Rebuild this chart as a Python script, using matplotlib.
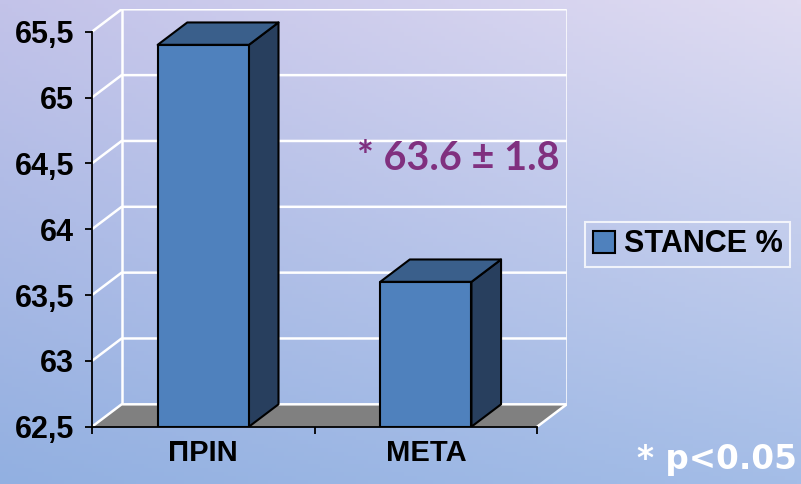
import numpy as np
import matplotlib
matplotlib.use("Agg")
import matplotlib.pyplot as plt
from matplotlib.patches import Polygon
from matplotlib.colors import to_rgb

# data
categories = ['ΠΡΙΝ', 'ΜΕΤΑ']
values = [65.4, 63.6]
series_name = 'STANCE %'
y_ticks = [62.5, 63.0, 63.5, 64.0, 64.5, 65.0, 65.5]
y_tick_labels = ['62,5', '63', '63,5', '64', '64,5', '65', '65,5']
note_text = '* 63.6 \u00b1 1.8'
p_text = '* p<0.05'

Y_MIN, Y_MAX = 62.5, 65.5
DX, DY = 0.133, 0.170   # 3d depth offset in data units
BAR_W = 0.41

FRONT = '#4f81bd'
TOP = '#3a5f8b'
SIDE = '#283f5e'

plt.rcParams['font.family'] = ['Liberation Sans', 'DejaVu Sans']

fig = plt.figure(figsize=(8.01, 4.84), dpi=100)

# gradient background
bg = fig.add_axes([0, 0, 1, 1], zorder=-10)
tl, tr = np.array(to_rgb('#c3c3e9')), np.array(to_rgb('#e0dcf2'))
bl, br = np.array(to_rgb('#92b0e1')), np.array(to_rgb('#a4bde7'))
u = np.linspace(0, 1, 200)[None, :, None]
v = np.linspace(0, 1, 120)[:, None, None]
img = (1 - v) * ((1 - u) * tl + u * tr) + v * ((1 - u) * bl + u * br)
bg.imshow(img, aspect='auto', extent=[0, 1, 0, 1])
bg.set_axis_off()

ax = fig.add_axes([92 / 801, 57.3 / 484, 474.7 / 801, 417.4 / 484])
ax.set_facecolor('none')
n = len(categories)
ax.set_xlim(0, n + DX)
ax.set_ylim(Y_MIN, Y_MAX + DY)

# floor
ax.add_patch(Polygon([(0, Y_MIN), (n, Y_MIN), (n + DX, Y_MIN + DY), (DX, Y_MIN + DY)],
                     closed=True, facecolor='#808080', edgecolor='none', zorder=1))

# walls grid
gkw = dict(color='white', lw=1.8, zorder=2, solid_capstyle='butt')
for y in y_ticks:
    ax.plot([0, DX, n + DX], [y, y + DY, y + DY], **gkw)
ax.plot([DX, DX], [Y_MIN + DY, Y_MAX + DY], **gkw)
ax.plot([n + DX, n + DX], [Y_MIN + DY, Y_MAX + DY], **gkw)
ax.plot([n, n + DX], [Y_MIN, Y_MIN + DY], **gkw)

# 3d bars
for i, val in enumerate(values):
    x0 = i + 0.5 - BAR_W / 2
    x1 = i + 0.5 + BAR_W / 2
    ekw = dict(closed=True, edgecolor='black', lw=1.5, joinstyle='round', zorder=3)
    ax.add_patch(Polygon([(x1, Y_MIN), (x1 + DX, Y_MIN + DY), (x1 + DX, val + DY), (x1, val)],
                         facecolor=SIDE, **ekw))
    ax.add_patch(Polygon([(x0, val), (x1, val), (x1 + DX, val + DY), (x0 + DX, val + DY)],
                         facecolor=TOP, **ekw))
    ax.add_patch(Polygon([(x0, Y_MIN), (x1, Y_MIN), (x1, val), (x0, val)],
                         facecolor=FRONT, label=series_name if i == 0 else None, **ekw))

# axes
for s in ['top', 'right']:
    ax.spines[s].set_visible(False)
ax.spines['left'].set_bounds(Y_MIN, Y_MAX)
ax.spines['bottom'].set_bounds(0, n)
for s in ['left', 'bottom']:
    ax.spines[s].set_linewidth(1.3)
    ax.spines[s].set_zorder(4)

ax.set_yticks(y_ticks)
ax.set_yticklabels(y_tick_labels, fontsize=22, fontweight='bold')
ax.tick_params(axis='y', length=5, width=1.3, pad=8)

ax.set_xticks(range(n + 1))
ax.set_xticklabels([''] * (n + 1))
ax.set_xticks([i + 0.5 for i in range(n)], minor=True)
ax.set_xticklabels(categories, minor=True, fontsize=21, fontweight='bold')
ax.tick_params(axis='x', which='major', length=5, width=1.3)
ax.tick_params(axis='x', which='minor', length=0, pad=9)

leg = fig.legend(loc='center left', bbox_to_anchor=(585 / 801, 1 - 244.5 / 484),
                 frameon=True, fancybox=False, borderaxespad=0, borderpad=0.25,
                 handlelength=0.72, handleheight=0.72, handletextpad=0.3,
                 prop={'size': 22, 'weight': 'bold'})
leg.get_frame().set_edgecolor('white')
leg.get_frame().set_facecolor('none')
leg.get_frame().set_linewidth(1.5)

fig.text(357 / 801, 1 - 170 / 484, note_text, color='#80307f', fontsize=28.5,
         fontweight='bold', family=['Lato', 'DejaVu Sans'], ha='left', va='baseline')
fig.text(797 / 801, 1 - 469 / 484, p_text, color='white', fontsize=23.5,
         fontweight='bold', family=['DejaVu Sans'], ha='right', va='baseline')

fig.savefig('out.png', dpi=100)
